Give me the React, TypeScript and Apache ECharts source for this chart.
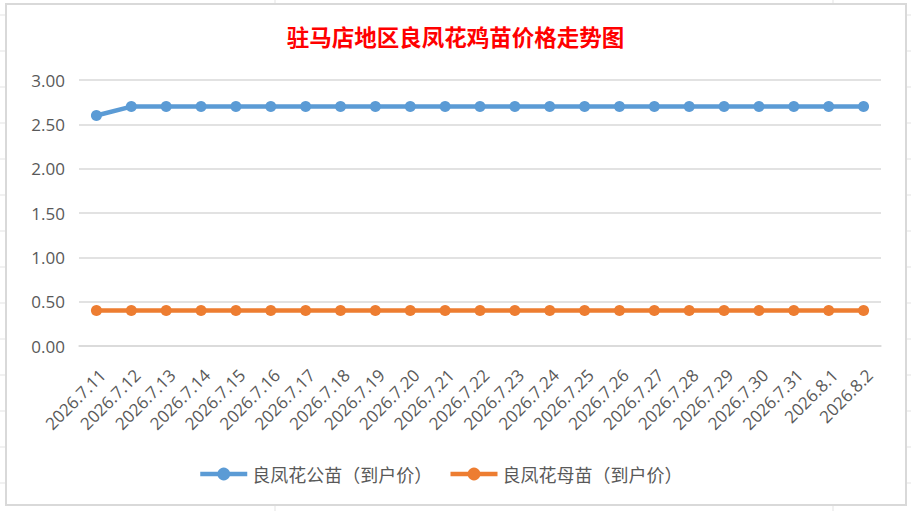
import React, { useEffect, useRef } from "react";
import * as echarts from "echarts";

const dates = [
  "2026.7.11", "2026.7.12", "2026.7.13", "2026.7.14", "2026.7.15", "2026.7.16",
  "2026.7.17", "2026.7.18", "2026.7.19", "2026.7.20", "2026.7.21", "2026.7.22",
  "2026.7.23", "2026.7.24", "2026.7.25", "2026.7.26", "2026.7.27", "2026.7.28",
  "2026.7.29", "2026.7.30", "2026.7.31", "2026.8.1", "2026.8.2",
];
const maleSeries = [
  2.6, 2.7, 2.7, 2.7, 2.7, 2.7, 2.7, 2.7, 2.7, 2.7, 2.7, 2.7,
  2.7, 2.7, 2.7, 2.7, 2.7, 2.7, 2.7, 2.7, 2.7, 2.7, 2.7,
];
const femaleSeries = [
  0.4, 0.4, 0.4, 0.4, 0.4, 0.4, 0.4, 0.4, 0.4, 0.4, 0.4, 0.4,
  0.4, 0.4, 0.4, 0.4, 0.4, 0.4, 0.4, 0.4, 0.4, 0.4, 0.4,
];
const seriesNames = ["良凤花公苗（到户价）", "良凤花母苗（到户价）"];
const titleText = "驻马店地区良凤花鸡苗价格走势图";

export default function App() {
  const ref = useRef<HTMLDivElement>(null);
  useEffect(() => {
    if (!ref.current) return;
    const chart = echarts.init(ref.current, undefined, { renderer: "svg" });
    const sheetLine = "#E3E3E3";
    const gfx: any[] = [];
    const rows = [15, 51, 87, 123, 159, 195, 231, 267, 303, 339, 375, 411, 447, 483];
    rows.forEach((y) => {
      gfx.push({ type: "line", z: -20, shape: { x1: 0, y1: y, x2: 6, y2: y }, style: { stroke: sheetLine, lineWidth: 1 } });
      gfx.push({ type: "line", z: -20, shape: { x1: 906, y1: y, x2: 911, y2: y }, style: { stroke: sheetLine, lineWidth: 1 } });
    });
    [275, 833].forEach((x) => {
      gfx.push({ type: "line", z: -20, shape: { x1: x, y1: 0, x2: x, y2: 4 }, style: { stroke: sheetLine, lineWidth: 1 } });
      gfx.push({ type: "line", z: -20, shape: { x1: x, y1: 505, x2: x, y2: 511 }, style: { stroke: sheetLine, lineWidth: 1 } });
    });
    gfx.push({
      type: "rect", z: -10,
      shape: { x: 6, y: 4, width: 900, height: 501 },
      style: { fill: "#FFFFFF", stroke: "#D9D9D9", lineWidth: 2 },
    });

    chart.setOption({
      animation: false,
      backgroundColor: "#FFFFFF",
      title: {
        text: titleText,
        left: "center",
        top: 20,
        textStyle: {
          color: "#FF0000",
          fontSize: 22.5,
          fontWeight: "bold",
          fontFamily: "Noto Sans CJK SC",
        },
      },
      graphic: gfx,
      grid: { left: 79, right: 30, top: 80, bottom: 165, containLabel: false },
      xAxis: {
        type: "category",
        data: dates,
        boundaryGap: true,
        axisLine: { show: true, lineStyle: { color: "#D9D9D9", width: 1.5 } },
        axisTick: { show: false },
        axisLabel: {
          rotate: 45,
          interval: 0,
          margin: 20,
          verticalAlign: "top",
          lineHeight: 17,
          color: "#595959",
          fontSize: 17,
          fontFamily: "Open Sans",
        },
      },
      yAxis: {
        type: "value",
        min: 0,
        max: 3,
        interval: 0.5,
        axisLine: { show: false },
        axisTick: { show: false },
        splitLine: { lineStyle: { color: "#D9D9D9", width: 1.5 } },
        axisLabel: {
          formatter: (v: number) => v.toFixed(2),
          color: "#595959",
          fontSize: 17,
          margin: 14,
          fontFamily: "Open Sans",
        },
      },
      legend: {
        top: 460,
        left: 193,
        itemWidth: 47,
        itemHeight: 16,
        itemGap: 16,
        lineStyle: { width: 4.5 },
        textStyle: { color: "#595959", fontSize: 18, fontFamily: "Noto Sans CJK SC" },
        data: seriesNames,
      },
      series: [
        {
          name: seriesNames[0],
          type: "line",
          data: maleSeries,
          symbol: "circle",
          symbolSize: 11,
          itemStyle: { color: "#5B9BD5" },
          lineStyle: { color: "#5B9BD5", width: 4.5 },
        },
        {
          name: seriesNames[1],
          type: "line",
          data: femaleSeries,
          symbol: "circle",
          symbolSize: 11,
          itemStyle: { color: "#ED7D31" },
          lineStyle: { color: "#ED7D31", width: 4.5 },
        },
      ],
    });
    return () => chart.dispose();
  }, []);
  return (
    <div
      ref={ref}
      style={{ position: "fixed", left: 0, top: 0, width: 911, height: 511 }}
    />
  );
}
